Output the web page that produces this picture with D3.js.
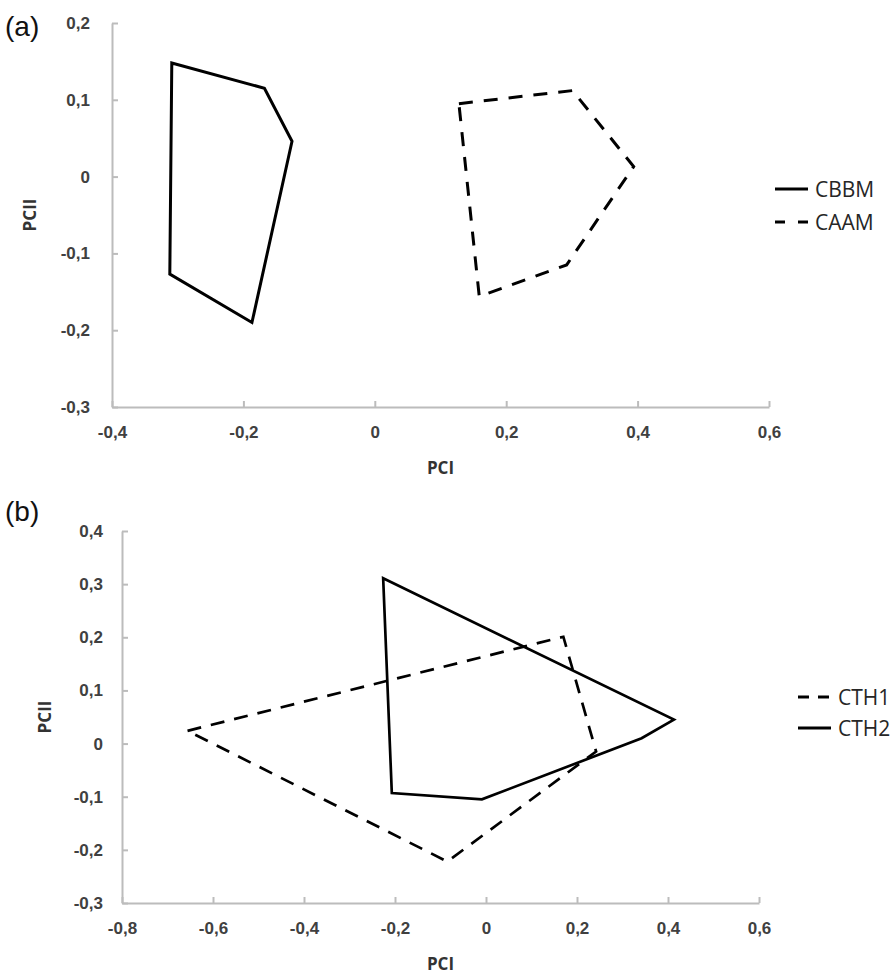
<!DOCTYPE html>
<html>
<head>
<meta charset="utf-8">
<script src="https://cdn.jsdelivr.net/npm/d3@7"></script>
<style>
  body { margin: 0; background: #fff; }
  svg { display: block; font-family: "Open Sans", sans-serif; }
</style>
</head>
<body>
<svg id="chart" width="893" height="977"></svg>
<script>
// panel (a)
const xTicksA = [-0.4, -0.2, 0, 0.2, 0.4, 0.6]
const yTicksA = [-0.3, -0.2, -0.1, 0, 0.1, 0.2]
const cbbmX = [-0.309, -0.168, -0.126, -0.187, -0.312]
const cbbmY = [0.148, 0.115, 0.046, -0.190, -0.127]
const caamX = [0.128, 0.301, 0.394, 0.292, 0.159]
const caamY = [0.095, 0.112, 0.013, -0.115, -0.156]

// panel (b)
const xTicksB = [-0.8, -0.6, -0.4, -0.2, 0, 0.2, 0.4, 0.6]
const yTicksB = [-0.3, -0.2, -0.1, 0, 0.1, 0.2, 0.3, 0.4]
const cth1X = [-0.656, 0.170, 0.242, -0.085]
const cth1Y = [0.024, 0.201, -0.015, -0.222]
const cth2X = [-0.226, 0.413, 0.342, -0.009, -0.207]
const cth2Y = [0.311, 0.045, 0.010, -0.105, -0.093]

const fmtLocale = d3.formatLocale({ decimal: ",", thousands: ".", grouping: [3], currency: ["", ""], minus: "-" })
const fmt = fmtLocale.format(".1~f")

const svg = d3.select("#chart")

function drawPanel(p) {
  const x = d3.scaleLinear().domain(d3.extent(p.xTicks)).range(p.xRange)
  const y = d3.scaleLinear().domain(d3.extent(p.yTicks)).range(p.yRange)
  const g = svg.append("g")

  g.append("g")
    .attr("transform", "translate(" + p.xRange[0] + ",0)")
    .call(d3.axisLeft(y).tickValues(p.yTicks).tickFormat(fmt)
      .tickSizeInner(-6).tickSizeOuter(0).tickPadding(p.yPad))
  g.append("g")
    .attr("transform", "translate(0," + p.yRange[0] + ")")
    .call(d3.axisBottom(x).tickValues(p.xTicks).tickFormat(fmt)
      .tickSizeInner(-6).tickSizeOuter(0).tickPadding(19))

  g.selectAll(".domain, .tick line").attr("stroke", "#bcbcbc").attr("stroke-width", 2)
  g.selectAll(".tick text")
    .attr("fill", "#404040")
    .style("font-size", "17px")
    .style("font-weight", 600)

  // axis titles
  g.append("text")
    .attr("x", (p.xRange[0] + p.xRange[1]) / 2)
    .attr("y", p.xTitleY)
    .attr("text-anchor", "middle")
    .style("font-size", "17px").style("font-weight", 700).attr("fill", "#333")
    .text("PCI")
  g.append("text")
    .attr("transform", "translate(" + p.yTitleX + "," + (p.yRange[0] + p.yRange[1]) / 2 + ") rotate(-90)")
    .attr("text-anchor", "middle")
    .style("font-size", "17px").style("font-weight", 700).attr("fill", "#333")
    .text("PCII")

  // panel letter
  g.append("text")
    .attr("x", 5).attr("y", p.letterY)
    .style("font-family", "'Liberation Sans', Arial, sans-serif")
    .style("font-size", "28px").attr("fill", "#111")
    .text(p.letter)

  const line = d3.line()
    .x(d => x(d[0]))
    .y(d => y(d[1]))
    .curve(d3.curveLinearClosed)

  p.series.forEach((s, i) => {
    g.append("path")
      .datum(d3.zip(s.xs, s.ys))
      .attr("d", line)
      .attr("fill", "none")
      .attr("stroke", "#000")
      .attr("stroke-width", p.lineWidth)
      .attr("stroke-linejoin", "miter")
      .attr("stroke-dasharray", s.dashed ? p.dash : null)

    const ly = p.legendY + i * p.legendGap
    g.append("line")
      .attr("x1", p.legendX).attr("x2", p.legendX + 33)
      .attr("y1", ly).attr("y2", ly)
      .attr("stroke", "#000")
      .attr("stroke-width", 3)
      .attr("stroke-dasharray", s.dashed ? p.legendDash : null)
    g.append("text")
      .attr("x", p.legendX + 40).attr("y", ly)
      .attr("dy", "0.36em")
      .style("font-size", "21px").attr("fill", "#262626")
      .text(s.name)
  })
}

drawPanel({
  letter: "(a)", letterY: 36,
  xTicks: xTicksA, yTicks: yTicksA,
  xRange: [112, 769], yRange: [407, 23],
  yPad: 22, xTitleY: 474, yTitleX: 36,
  lineWidth: 3, dash: "14,11",
  legendX: 775, legendY: 189, legendGap: 33, legendDash: "10,13",
  series: [
    { name: "CBBM", xs: cbbmX, ys: cbbmY, dashed: false },
    { name: "CAAM", xs: caamX, ys: caamY, dashed: true }
  ]
})

drawPanel({
  letter: "(b)", letterY: 521,
  xTicks: xTicksB, yTicks: yTicksB,
  xRange: [122, 759], yRange: [903, 531],
  yPad: 19, xTitleY: 970, yTitleX: 51,
  lineWidth: 2.7, dash: "14,10",
  legendX: 798, legendY: 697, legendGap: 31, legendDash: "11,9",
  series: [
    { name: "CTH1", xs: cth1X, ys: cth1Y, dashed: true },
    { name: "CTH2", xs: cth2X, ys: cth2Y, dashed: false }
  ]
})
</script>
</body>
</html>
